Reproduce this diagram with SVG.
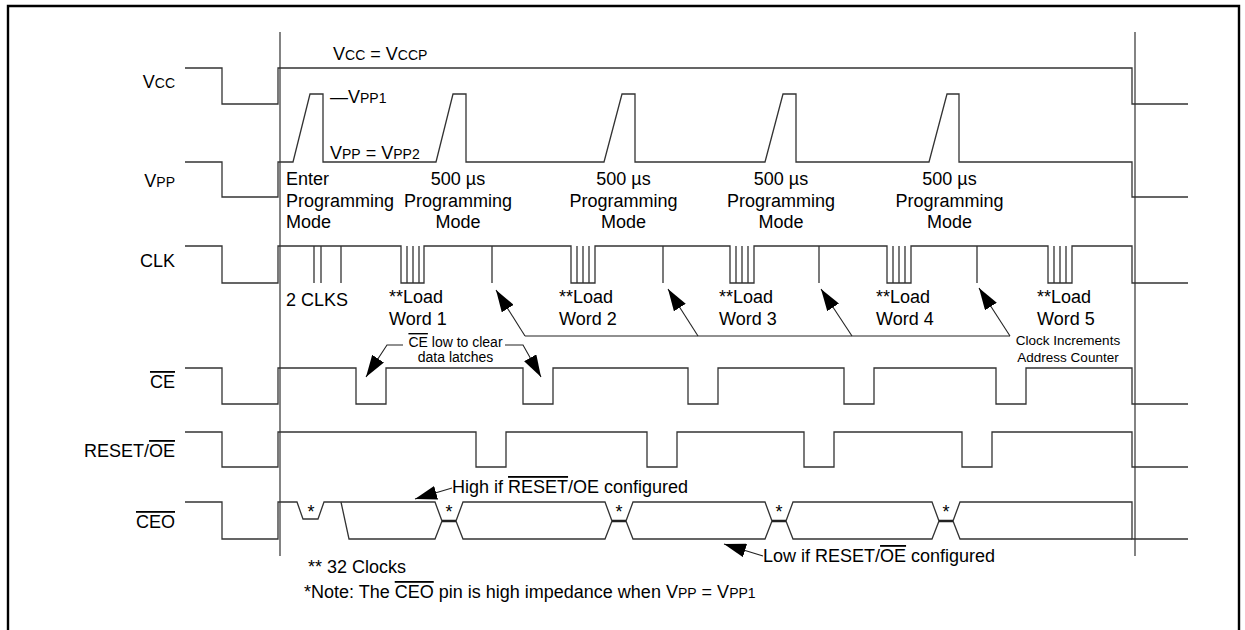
<svg xmlns="http://www.w3.org/2000/svg" width="1245" height="630" viewBox="0 0 1245 630">
<style>
.sig{fill:none;stroke:#333;stroke-width:1.3}
.bold{fill:none;stroke:#222;stroke-width:2.4}
.tk{fill:none;stroke:#333;stroke-width:1.2}
.frame{fill:none;stroke:#000;stroke-width:2.4}
.ld{fill:none;stroke:#222;stroke-width:1.1}
text{font-family:"Liberation Sans",Arial,sans-serif;font-size:18px;fill:#000}
.sm{font-size:14px}
.f14{font-size:14px}
.f13{font-size:13.5px}
.ov{text-decoration:overline}
</style>
<defs>
<marker id="ah" markerUnits="userSpaceOnUse" markerWidth="24" markerHeight="14" refX="22" refY="7" orient="auto">
<path d="M0,0 L22,7 L0,14 z" fill="#000"/>
</marker>
</defs>

<g id="frame">
<path class="frame" d="M8,630 V6 H1239 V630"/>
<path class="tk" d="M280,32 V556 M1135,32 V556"/>
</g>

<g id="vcc">
<text x="175" y="88" text-anchor="end">V<tspan class="sm">CC</tspan></text>
<path class="sig" d="M185,68 H222 V104 H278 V68 H1132 V104 H1188"/>
<text x="333" y="60">V<tspan class="sm">CC</tspan> = V<tspan class="sm">CCP</tspan></text>
</g>

<g id="vpp">
<text x="175" y="187" text-anchor="end">V<tspan class="sm">PP</tspan></text>
<path class="sig" d="M185,162 H222 V197 H278 V162 H293 L310,94 H323 V162 H436 L453,94 H466 V162 H604 L622,94 H635 V162 H765 L783,94 H796 V162 H929 L947,94 H959 V162 H1132 V197 H1188"/>
<text x="330" y="103">—V<tspan class="sm">PP1</tspan></text>
<text x="330" y="159">V<tspan class="sm">PP</tspan> = V<tspan class="sm">PP2</tspan></text>
<text x="286" y="185">Enter</text>
<text x="286" y="207">Programming</text>
<text x="286" y="228">Mode</text>
<g text-anchor="middle">
<text x="458" y="185">500 µs</text><text x="458" y="207">Programming</text><text x="458" y="228">Mode</text>
<text x="623.5" y="185">500 µs</text><text x="623.5" y="207">Programming</text><text x="623.5" y="228">Mode</text>
<text x="781" y="185">500 µs</text><text x="781" y="207">Programming</text><text x="781" y="228">Mode</text>
<text x="949.5" y="185">500 µs</text><text x="949.5" y="207">Programming</text><text x="949.5" y="228">Mode</text>
</g>
</g>

<g id="clk">
<text x="175" y="267" text-anchor="end">CLK</text>
<path class="sig" d="M185,246 H222 V283 H278 V246 H401 V283 H424 V246 H571 V283 H595 V246 H730 V283 H754 V246 H887 V283 H911 V246 H1048 V283 H1072 V246 H1132 V283 H1188"/>
<path class="sig" d="M314,246 V283 M321,246 V283 M341,246 V283 M407,246 V283 M413,246 V283 M419,246 V283 M577,246 V283 M583,246 V283 M589,246 V283 M736,246 V283 M742,246 V283 M748,246 V283 M893,246 V283 M899,246 V283 M905,246 V283 M1054,246 V283 M1060,246 V283 M1066,246 V283 M492,246 V283 M663,246 V283 M819,246 V283 M977,246 V283"/>
<text x="286" y="306">2 CLKS</text>
<text x="389" y="303">**Load</text><text x="389" y="325">Word 1</text>
<text x="559" y="303">**Load</text><text x="559" y="325">Word 2</text>
<text x="719" y="303">**Load</text><text x="719" y="325">Word 3</text>
<text x="876" y="303">**Load</text><text x="876" y="325">Word 4</text>
<text x="1037" y="303">**Load</text><text x="1037" y="325">Word 5</text>
<text class="f13" x="1068" y="345" text-anchor="middle">Clock Increments</text>
<text class="f13" x="1068" y="362" text-anchor="middle">Address Counter</text>
</g>

<g id="ce">
<text x="175" y="388" text-anchor="end"><tspan class="ov">CE</tspan></text>
<path class="sig" d="M185,368 H222 V404 H278 V368 H356 V404 H386 V368 H523 V404 H553 V368 H688 V404 H718 V368 H844 V404 H874 V368 H996 V404 H1026 V368 H1132 V404 H1188"/>
<text class="f14" x="455.5" y="347" text-anchor="middle"><tspan class="ov">CE</tspan> low to clear</text>
<text class="f14" x="455.5" y="362" text-anchor="middle">data latches</text>
</g>

<g id="reset-oe">
<text x="175" y="457" text-anchor="end">RESET/<tspan class="ov">OE</tspan></text>
<path class="sig" d="M185,432 H222 V467 H278 V432 H476 V467 H506 V432 H647 V467 H677 V432 H804 V467 H834 V432 H962 V467 H992 V432 H1132 V467 H1188"/>
</g>

<g id="ceo">
<text x="175" y="528" text-anchor="end"><tspan class="ov">CEO</tspan></text>
<path class="sig" d="M185,502 H222 V539 H278 V502 H297 L303,519 H318 L324,502 H341"/>
<path class="sig" d="M341,502 H435 L442,521 M456,521 L463,502 H605 L612,521 M626,521 L633,502 H765 L772,521 M786,521 L793,502 H932 L939,521 M953,521 L960,502 H1132 V539 H1188"/>
<path class="sig" d="M341,502 L349,539 H435 L442,521 M456,521 L463,539 H605 L612,521 M626,521 L633,539 H765 L772,521 M786,521 L793,539 H932 L939,521 M953,521 L960,539 H1132"/>
<path class="bold" d="M442,521 H456 M612,521 H626 M772,521 H786 M939,521 H953"/>
<g class="f14" text-anchor="middle">
<text x="311" y="518">*</text><text x="449" y="518">*</text><text x="619" y="518">*</text><text x="779" y="518">*</text><text x="946" y="518">*</text>
</g>
<text x="452" y="493">High if <tspan class="ov">RESET</tspan>/OE configured</text>
<text x="763" y="562">Low if RESET/<tspan class="ov">OE</tspan> configured</text>
</g>

<g id="notes">
<text x="308" y="573">** 32 Clocks</text>
<text x="304" y="598">*Note: The <tspan class="ov">CEO</tspan> pin is high impedance when V<tspan class="sm">PP</tspan> = V<tspan class="sm">PP1</tspan></text>
</g>

<g id="connectors">
<path class="ld" d="M525,336 H1010"/>
<path class="ld" marker-end="url(#ah)" d="M525,336 L496,290"/>
<path class="ld" marker-end="url(#ah)" d="M698,336 L668,289"/>
<path class="ld" marker-end="url(#ah)" d="M852,336 L821,289"/>
<path class="ld" marker-end="url(#ah)" d="M1010,336 L979,288"/>
<path class="ld" marker-end="url(#ah)" d="M403,345 H387 L366,377"/>
<path class="ld" marker-end="url(#ah)" d="M505,345 H523 L541,377"/>
<path class="ld" marker-end="url(#ah)" d="M452,488 L415,499"/>
<path class="ld" marker-end="url(#ah)" d="M763,556 L724,544"/>
</g>
</svg>
